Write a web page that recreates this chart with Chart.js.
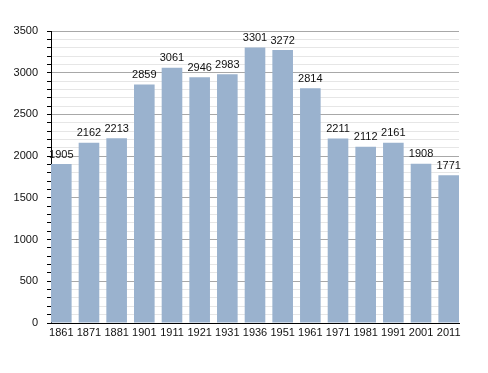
<!DOCTYPE html>
<html>
<head>
<meta charset="utf-8" />
<title>Population</title>
<style>
  html, body { margin: 0; padding: 0; background: #fff; }
  #wrap { width: 488px; height: 373px; }
</style>
<script src="https://cdn.jsdelivr.net/npm/chart.js@4.4.0/dist/chart.umd.min.js"></script>
</head>
<body>
<div id="wrap"><canvas id="chart" width="488" height="373"></canvas></div>
<script>
// census years and population
var years = ['1861', '1871', '1881', '1901', '1911', '1921', '1931', '1936', '1951', '1961', '1971', '1981', '1991', '2001', '2011'];
var population = [1905, 2162, 2213, 2859, 3061, 2946, 2983, 3301, 3272, 2814, 2211, 2112, 2161, 1908, 1771];
var yMax = 3500;
var yMajor = 500;
var yMinor = 100;

// bars sit flush with both ends of the plot, so use a linear x scale
var barFrac = 0.745;
var points = population.map(function (v, i) { return { x: i, y: v }; });

// value labels above each bar
var barLabels = {
  id: 'barLabels',
  afterDatasetsDraw: function (chart) {
    var ctx = chart.ctx;
    var meta = chart.getDatasetMeta(0);
    ctx.save();
    ctx.font = '11px "Liberation Sans", Arial, sans-serif';
    ctx.fillStyle = '#111';
    ctx.textAlign = 'center';
    ctx.textBaseline = 'bottom';
    meta.data.forEach(function (bar, i) {
      ctx.fillText(String(population[i]), bar.x, bar.y - 4);
    });
    ctx.restore();
  }
};

var ctx = document.getElementById('chart').getContext('2d');
new Chart(ctx, {
  type: 'bar',
  data: {
    datasets: [{
      data: points,
      backgroundColor: 'rgb(154,178,206)',
      borderWidth: 0,
      barPercentage: barFrac,
      categoryPercentage: 1
    }]
  },
  options: {
    responsive: false,
    animation: false,
    layout: { padding: { left: 0, top: 31, right: 29, bottom: 0 } },
    plugins: {
      legend: { display: false },
      tooltip: { enabled: false }
    },
    scales: {
      x: {
        type: 'linear',
        offset: false,
        min: -barFrac / 2,
        max: years.length - 1 + barFrac / 2,
        afterBuildTicks: function (scale) {
          scale.ticks = years.map(function (y, i) { return { value: i }; });
        },
        afterFit: function (scale) { scale.height = 50; },
        grid: { color: 'transparent', drawTicks: false },
        border: { display: true, color: '#000', width: 1 },
        ticks: {
          autoSkip: false,
          maxRotation: 0,
          color: '#111',
          padding: 3,
          font: { family: '"Liberation Sans", Arial, sans-serif', size: 11 },
          callback: function (v) { return years[v] || ''; }
        }
      },
      y: {
        min: 0,
        max: yMax,
        afterFit: function (scale) { scale.width = 51; },
        border: { display: true, color: '#000', width: 1 },
        grid: {
          color: function (c) {
            if (!c.tick || c.tick.value === 0) return 'transparent';
            return c.tick.value % yMajor === 0 ? '#a8a8a8' : '#e6e6e6';
          },
          tickColor: '#000',
          tickLength: 4,
          lineWidth: 1
        },
        ticks: {
          stepSize: yMinor,
          autoSkip: false,
          padding: 9,
          color: '#111',
          font: { family: '"Liberation Sans", Arial, sans-serif', size: 11 },
          callback: function (v) { return v % yMajor === 0 ? String(v) : ''; }
        }
      }
    }
  },
  plugins: [barLabels]
});
</script>
</body>
</html>
